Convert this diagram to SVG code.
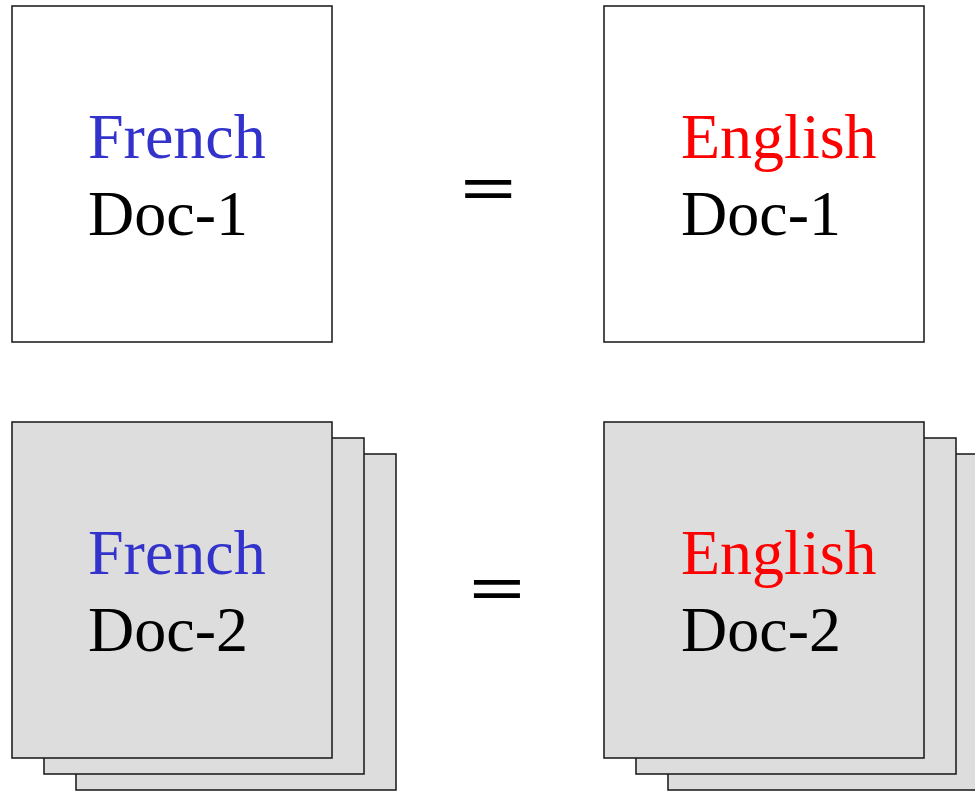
<svg xmlns="http://www.w3.org/2000/svg" width="975" height="791" viewBox="0 0 975 791">
  <style>
    .page { stroke: #222; stroke-width: 1.6; }
    .blank { fill: #ffffff; }
    .grey { fill: #dddddd; }
    text { font-family: "Liberation Serif", "Times New Roman", serif; font-size: 64px; }
    .fr { fill: #3333cc; }
    .en { fill: #ff0000; }
    .doc { fill: #000000; }
    .eq { font-size: 67px; font-weight: bold; fill: #000000; }
  </style>
  <rect width="975" height="791" fill="#ffffff"/>

  <!-- single French document -->
  <g id="french-doc-1">
    <rect class="page blank" x="12" y="6" width="320" height="336"/>
    <text class="fr" x="88" y="158">French</text>
    <text class="doc" x="88" y="235">Doc-1</text>
  </g>

  <!-- single English document -->
  <g id="english-doc-1">
    <rect class="page blank" x="604" y="6" width="320" height="336"/>
    <text class="en" x="681" y="158">English</text>
    <text class="doc" x="681" y="235">Doc-1</text>
  </g>

  <!-- stacked French document set -->
  <g id="french-doc-2">
    <rect class="page grey" x="76" y="454" width="320" height="336"/>
    <rect class="page grey" x="44" y="438" width="320" height="336"/>
    <rect class="page grey" x="12" y="422" width="320" height="336"/>
    <text class="fr" x="88" y="574">French</text>
    <text class="doc" x="88" y="651">Doc-2</text>
  </g>

  <!-- stacked English document set -->
  <g id="english-doc-2">
    <rect class="page grey" x="668" y="454" width="320" height="336"/>
    <rect class="page grey" x="636" y="438" width="320" height="336"/>
    <rect class="page grey" x="604" y="422" width="320" height="336"/>
    <text class="en" x="681" y="574">English</text>
    <text class="doc" x="681" y="651">Doc-2</text>
  </g>

  <!-- equivalence marks between the pairs (widened equals sign) -->
  <g id="connectors">
    <text class="eq" transform="translate(460.3,210.6) scale(1.478,1)">=</text>
    <text class="eq" transform="translate(469,610.6) scale(1.478,1)">=</text>
  </g>
</svg>
